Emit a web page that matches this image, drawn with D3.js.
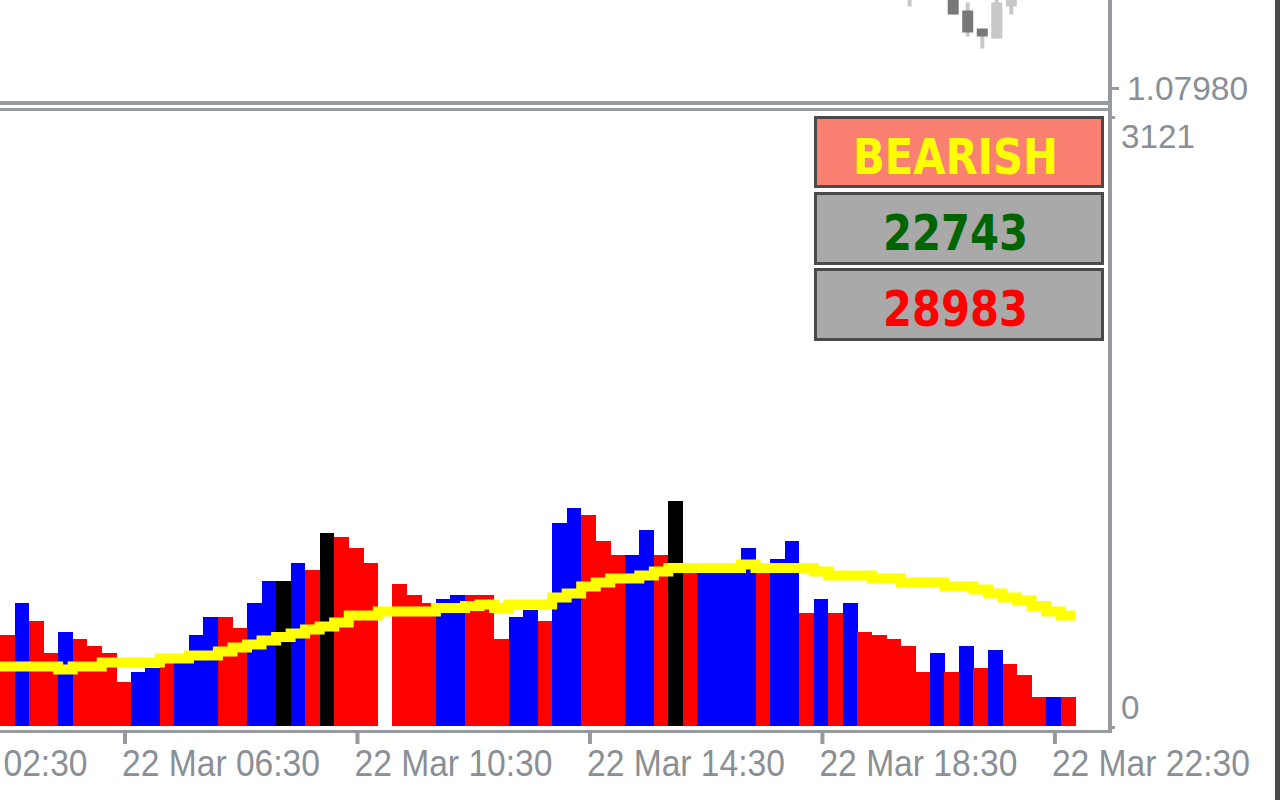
<!DOCTYPE html>
<html><head><meta charset="utf-8">
<script src="https://cdn.jsdelivr.net/npm/d3@7"></script>
<style>html,body{margin:0;padding:0;background:#fff;overflow:hidden}</style>
</head><body>
<svg id="c" width="1280" height="800"></svg>
<script>
// ---------- DATA ----------
const dayLabel = "22 Mar";
const times = [
 "04:30","04:45","05:00","05:15","05:30","05:45","06:00","06:15",
 "06:30","06:45","07:00","07:15","07:30","07:45","08:00","08:15",
 "08:30","08:45","09:00","09:15","09:30","09:45","10:00","10:15",
 "10:30","10:45","11:00","11:15","11:30","11:45","12:00","12:15",
 "12:30","12:45","13:00","13:15","13:30","13:45","14:00","14:15",
 "14:30","14:45","15:00","15:15","15:30","15:45","16:00","16:15",
 "16:30","16:45","17:00","17:15","17:30","17:45","18:00","18:15",
 "18:30","18:45","19:00","19:15","19:30","19:45","20:00","20:15",
 "20:30","20:45","21:00","21:15","21:30","21:45","22:00","22:15",
 "22:30","22:45"];
const volumes = [
 466,629,537,373,481,445,409,373,
 225,276,297,333,322,466,558,558,
 501,629,742,742,834,798,987,967,
 911,834,0,726,670,629,650,670,
 670,670,445,558,593,537,1039,1115,
 1079,946,875,875,1003,875,1151,793,
 793,793,793,911,793,854,946,578,
 650,578,629,481,466,445,409,276,
 373,276,409,297,389,317,261,148,
 148,148];
// U = bullish (blue), D = bearish (red), K = climax (black)
const barKinds = [
 "D","U","D","D","U","D","D","D",
 "D","U","U","D","U","U","U","D",
 "D","U","U","K","U","D","K","D",
 "D","D","D","D","D","D","U","U",
 "D","D","D","U","U","D","U","U",
 "D","D","D","U","U","D","K","D",
 "U","U","U","U","D","U","U","D",
 "U","D","U","D","D","D","D","D",
 "U","D","U","D","U","D","D","D",
 "U","D"];
const maValues = [
 304,304,304,304,289,304,304,325,
 325,325,325,345,345,361,361,381,
 402,417,437,455,473,494,509,530,
 565,565,586,586,586,586,604,604,
 614,622,604,622,622,622,657,678,
 714,734,755,755,770,790,808,808,
 808,808,808,826,808,808,808,808,
 790,770,770,770,755,755,734,734,
 734,714,714,698,678,657,642,614,
 586,565];
const candleTimes = ["20:00","20:45","21:00","21:15","21:30","21:45"];
const candleOpen  = [1.08029,1.08028,1.08019,1.08010,1.08005,1.08021];
const candleHigh  = [1.08042,1.08032,1.08023,1.08010,1.08025,1.08033];
const candleLow   = [1.08021,1.08017,1.08006,1.08000,1.08005,1.08017];
const candleClose = [1.08039,1.08017,1.08008,1.08006,1.08023,1.08030];
const priceTicks = [1.07980];
const volumeTicks = [0, 3121];
const timeTicks = ["22 Mar 02:30","22 Mar 06:30","22 Mar 10:30","22 Mar 14:30","22 Mar 18:30","22 Mar 22:30"];
const signalLabel = "BEARISH";
const bullVolume = 22743;
const bearVolume = 28983;

// ---------- STYLE ----------
const C = {
  grid: "#969a9f", text: "#8a8f96", edge: "#4a4a4a",
  up: "#0000ff", down: "#ff0000", climax: "#000000", ma: "#ffff00",
  candleDark: "#787878", candleLight: "#c8c8c8",
  boxBorder: "#4a4a4a", boxSignal: "#fa8072", boxGray: "#a9a9a9",
  bullText: "#006400", bearText: "#ff0000", signalText: "#ffff00"
};
const axisX = 1110;        // right price axis
const plotRight = 1075.2;  // last bar right edge

const svg = d3.select("#c");
svg.append("rect").attr("width",1280).attr("height",800).attr("fill","#fff");

const parse = d3.utcParse("%d %b %H:%M");
const xBand = d3.scaleBand().domain(times).range([0, plotRight]).padding(0);
const bw = xBand.bandwidth();
const t0 = parse(dayLabel + " " + times[0]);
const t1 = parse(dayLabel + " " + times[times.length-1]);
const half = 7.5*60*1000;
const xTime = d3.scaleUtc().domain([new Date(+t0-half), new Date(+t1+half)]).range([0, plotRight]);

// ---------- TOP PRICE PANEL ----------
const yPrice = d3.scaleLinear().domain([1.07980, 1.08030]).range([88.5, -11.5]);
svg.append("defs").append("clipPath").attr("id","topclip")
  .append("rect").attr("x",0).attr("y",0).attr("width",axisX-2).attr("height",101);
const gTop = svg.append("g").attr("clip-path","url(#topclip)");
const candles = candleTimes.map((t,i)=>({t, o:candleOpen[i], h:candleHigh[i], l:candleLow[i], c:candleClose[i]}));
const cx = d => xBand(d.t) + bw/2 + 1.5;
gTop.selectAll("rect.wick").data(candles).join("rect")
  .attr("x", d=>cx(d)-2).attr("width",4)
  .attr("y", d=>yPrice(d.h)).attr("height", d=>yPrice(d.l)-yPrice(d.h))
  .attr("fill", C.candleLight);
gTop.selectAll("rect.body").data(candles).join("rect")
  .attr("x", d=>cx(d)-5.5).attr("width",11)
  .attr("y", d=>yPrice(Math.max(d.o,d.c))).attr("height", d=>Math.max(1,Math.abs(yPrice(d.o)-yPrice(d.c))))
  .attr("fill", d=> d.c>=d.o ? C.candleLight : C.candleDark);

// panel lines
svg.append("rect").attr("x",0).attr("y",101).attr("width",axisX+2).attr("height",4).attr("fill",C.grid);
svg.append("rect").attr("x",0).attr("y",108).attr("width",axisX+2).attr("height",3).attr("fill",C.grid);
svg.append("rect").attr("x",axisX-2).attr("y",0).attr("width",4).attr("height",733).attr("fill",C.grid);
svg.append("rect").attr("x",0).attr("y",730).attr("width",axisX+2).attr("height",3).attr("fill",C.grid);

// price labels
priceTicks.forEach(p=>{
  const y = yPrice(p);
  svg.append("rect").attr("x",axisX+1).attr("y",y-1.5).attr("width",8).attr("height",3).attr("fill",C.grid);
  svg.append("text").attr("x",1127).attr("y",y+11.5).text(d3.format(".5f")(p))
    .attr("font-family","Liberation Sans, Arial, sans-serif").attr("font-size",34)
    .attr("fill",C.text).attr("textLength",121).attr("lengthAdjust","spacingAndGlyphs");
});

// ---------- VOLUME SUB-WINDOW ----------
const yVol = d3.scaleLinear().domain([0, 3121]).range([726, 116]);
const colorOf = k => k==="U" ? C.up : k==="K" ? C.climax : C.down;
const bars = times.map((t,i)=>({t, v:volumes[i], k:barKinds[i], ma:maValues[i]}));
svg.append("g").attr("shape-rendering","crispEdges")
  .selectAll("rect").data(bars.filter(d=>d.v>0)).join("rect")
  .attr("x", d=>xBand(d.t)).attr("width", bw+0.3)
  .attr("y", d=>yVol(d.v)).attr("height", d=>yVol(0)-yVol(d.v))
  .attr("fill", d=>colorOf(d.k));

const maPts = [];
bars.forEach(d=>{ maPts.push([xBand(d.t), yVol(d.ma)]); maPts.push([xBand(d.t)+bw, yVol(d.ma)]); });
svg.append("path").attr("d", d3.line()(maPts)).attr("fill","none")
  .attr("stroke",C.ma).attr("stroke-width",10).attr("stroke-linejoin","miter");

// volume labels
volumeTicks.forEach(v=>{
  const y = yVol(v);
  const isTop = v>0;
  svg.append("rect").attr("x",axisX+1).attr("y",y-(isTop?0:0)).attr("width",4).attr("height",3).attr("fill",C.grid);
  const s = String(v);
  svg.append("text").attr("x",1121).attr("y", isTop ? y+32 : y-7).text(s)
    .attr("font-family","Liberation Sans, Arial, sans-serif").attr("font-size",34)
    .attr("fill",C.text).attr("textLength", s.length*18.5).attr("lengthAdjust","spacingAndGlyphs");
});

// time axis
const gx = svg.append("g");
timeTicks.forEach(s=>{
  const x = xTime(parse(s)) + 1.5;
  gx.append("rect").attr("x",x-2).attr("y",733).attr("width",4).attr("height",11).attr("fill",C.grid);
  gx.append("text").attr("x",x-3).attr("y",776).text(s)
    .attr("font-family","Liberation Sans, Arial, sans-serif").attr("font-size",36)
    .attr("fill",C.text).attr("textLength",198).attr("lengthAdjust","spacingAndGlyphs");
});

// ---------- SIGNAL BOXES ----------
const boxes = [
  {label: signalLabel, fill: C.boxSignal, color: C.signalText, top:116, bottom:188, tl:205},
  {label: String(bullVolume), fill: C.boxGray, color: C.bullText, top:192, bottom:265, tl:145},
  {label: String(bearVolume), fill: C.boxGray, color: C.bearText, top:268, bottom:341, tl:145}
];
boxes.forEach(b=>{
  svg.append("rect").attr("x",815.5).attr("y",b.top+1.5).attr("width",287).attr("height",b.bottom-b.top-3)
    .attr("fill",b.fill).attr("stroke",C.boxBorder).attr("stroke-width",3);
  svg.append("text").attr("x",955.5).attr("y",b.top+58).attr("text-anchor","middle").text(b.label)
    .attr("font-family","DejaVu Sans, Verdana, sans-serif").attr("font-weight","bold").attr("font-size",50)
    .attr("fill",b.color).attr("textLength",b.tl).attr("lengthAdjust","spacingAndGlyphs");
});

// window edge
svg.append("rect").attr("x",1275).attr("y",0).attr("width",5).attr("height",800).attr("fill",C.edge);
</script>
</body></html>
